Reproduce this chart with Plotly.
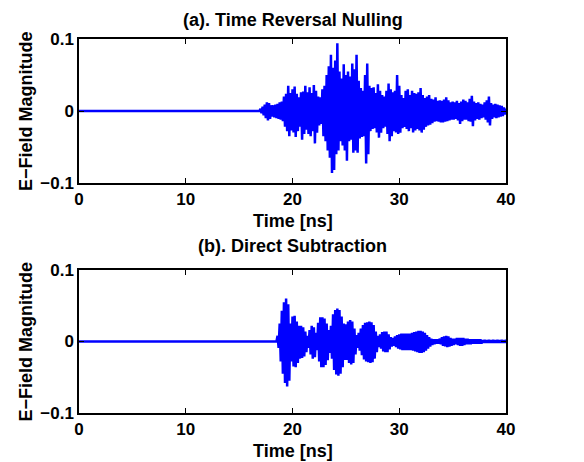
import numpy as np
import plotly.graph_objects as go

# ---------- data ----------
x_ticks = [0, 10, 20, 30, 40]
y_ticks = [-0.1, 0, 0.1]
x_tick_labels = ["0", "10", "20", "30", "40"]
y_tick_labels = ["\u22120.1", "0", "0.1"]

# (a) Time Reversal Nulling: envelope of the oscillation, sampled every 0.2 ns from 16.8 ns, units of 1e-3
a_t0 = 16.8
a_upper = [0, 3, 6, 9, 12, 11, 8, 8, 9, 10, 12, 13, 20, 24, 35, 25, 30, 34, 24, 19,
           26, 27, 35, 26, 33, 25, 36, 28, 20, 19, 30, 35, 50, 62, 78, 60, 70, 94, 55, 45,
           65, 50, 55, 48, 66, 58, 78, 42, 32, 28, 50, 66, 35, 32, 33, 25, 37, 28, 22, 20,
           28, 38, 30, 26, 28, 50, 35, 22, 18, 28, 30, 22, 28, 25, 24, 26, 32, 22, 18, 20,
           22, 17, 16, 19, 14, 15, 14, 16, 19, 15, 12, 13, 12, 14, 11, 13, 16, 14, 12, 17,
           21, 13, 11, 12, 10, 9, 12, 15, 20, 11, 9, 10, 9, 8, 7, 5, 3]
a_lower = [0, 3, 6, 10, 13, 11, 8, 9, 10, 11, 12, 14, 22, 28, 35, 27, 30, 36, 28, 22,
           40, 32, 26, 32, 35, 28, 45, 30, 20, 18, 35, 42, 55, 65, 86, 82, 60, 55, 42, 48,
           55, 69, 42, 40, 58, 55, 58, 38, 36, 35, 73, 60, 28, 25, 24, 30, 37, 30, 24, 22,
           32, 42, 35, 28, 30, 32, 30, 24, 22, 25, 28, 24, 30, 27, 25, 27, 30, 26, 22, 20,
           19, 17, 15, 14, 15, 16, 16, 15, 14, 13, 12, 12, 11, 13, 18, 14, 12, 12, 14, 15,
           21, 13, 11, 12, 10, 9, 12, 16, 20, 11, 9, 10, 9, 8, 7, 5, 4]

# (b) Direct Subtraction: envelope sampled every 0.2 ns from 18.4 ns, units of 1e-3
b_t0 = 18.4
b_upper = [0, 8, 25, 43, 55, 60, 52, 25, 35, 36, 28, 22, 22, 20, 14, 8, 16, 22, 20, 12,
           26, 34, 34, 32, 25, 16, 22, 38, 44, 46, 44, 35, 25, 24, 28, 30, 28, 18, 9, 12,
           18, 23, 26, 27, 28, 27, 23, 14, 8, 10, 13, 14, 14, 10, 6, 5, 7, 9, 10, 11,
           11, 11, 11, 11, 12, 13, 14, 15, 15, 14, 12, 9, 6, 4, 3, 3, 3, 4, 6, 7,
           8, 7, 5, 4, 4, 5, 5, 5, 5, 4, 4, 3, 3, 3, 3, 3, 3, 2, 2, 2,
           2, 2, 2, 2, 2, 2, 2, 2, 2]
b_lower = [0, 9, 28, 45, 58, 63, 55, 28, 35, 36, 30, 24, 23, 21, 15, 9, 18, 24, 22, 12,
           28, 36, 36, 33, 26, 16, 24, 40, 46, 48, 45, 36, 26, 26, 30, 32, 30, 18, 9, 13,
           19, 25, 28, 29, 30, 29, 24, 15, 8, 10, 14, 15, 15, 11, 7, 6, 8, 10, 11, 12,
           12, 12, 12, 12, 13, 14, 15, 16, 16, 15, 13, 10, 7, 5, 4, 3, 3, 4, 6, 7,
           8, 7, 6, 5, 4, 5, 6, 6, 5, 4, 4, 4, 3, 3, 3, 3, 3, 2, 2, 2,
           2, 2, 2, 2, 2, 2, 2, 2, 2]

DT = 0.2
SCALE = 1e-3


def waveform(t0, upper, lower):
    t = t0 + DT * np.arange(len(upper))
    xs = [0.0, t0]
    ys = [0.0, 0.0]
    for ti, u, l in zip(t, upper, lower):
        xs += [ti, ti + DT / 2]
        ys += [u * SCALE, -l * SCALE]
    return xs, ys


BLUE = "#0000FF"
FAMILY = "Liberation Sans, Arial, Helvetica, sans-serif"
FONT = dict(family=FAMILY, size=18, color="black", weight="bold")
TICKFONT = dict(family=FAMILY, size=17, color="black", weight="bold")

fig = go.Figure()
xa, ya = waveform(a_t0, a_upper, a_lower)
xb, yb = waveform(b_t0, b_upper, b_lower)
fig.add_trace(go.Scatter(x=xa, y=ya, mode="lines", line=dict(color=BLUE, width=2.5),
                         xaxis="x", yaxis="y", showlegend=False, hoverinfo="skip"))
fig.add_trace(go.Scatter(x=xb, y=yb, mode="lines", line=dict(color=BLUE, width=2.5),
                         xaxis="x2", yaxis="y2", showlegend=False, hoverinfo="skip"))

axis_common = dict(showline=True, linecolor="black", linewidth=1.5, mirror="ticks",
                   ticks="inside", ticklen=5, tickwidth=1, tickcolor="black",
                   showgrid=False, zeroline=False, tickfont=TICKFONT)

fig.update_layout(
    width=584, height=462,
    margin=dict(l=79, r=78, t=39, b=49),
    paper_bgcolor="white", plot_bgcolor="white",
    xaxis=dict(domain=[0, 1], anchor="y", range=[0, 40], tickvals=x_ticks,
               ticktext=x_tick_labels, **axis_common),
    yaxis=dict(domain=[0.615, 1.0], anchor="x", range=[-0.1, 0.1], tickvals=y_ticks,
               ticktext=y_tick_labels, **axis_common),
    xaxis2=dict(domain=[0, 1], anchor="y2", range=[0, 40], tickvals=x_ticks,
                ticktext=x_tick_labels, **axis_common),
    yaxis2=dict(domain=[0.0, 0.3824], anchor="x2", range=[-0.1, 0.1], tickvals=y_ticks,
                ticktext=y_tick_labels, **axis_common),
)

ann = dict(xref="paper", yref="paper", showarrow=False, font=FONT, borderpad=0)
fig.add_annotation(text="(a). Time Reversal Nulling", x=0.5, y=1.0508, xanchor="center", yanchor="middle", **ann)
fig.add_annotation(text="(b). Direct Subtraction", x=0.5, y=0.4465, xanchor="center", yanchor="middle", **ann)
fig.add_annotation(text="Time [ns]", x=0.5, y=0.5428, xanchor="center", yanchor="top", **ann)
fig.add_annotation(text="Time [ns]", x=0.5, y=-0.0722, xanchor="center", yanchor="top", **ann)
fig.add_annotation(text="E\u2212Field Magnitude", x=-0.124, y=0.8075, textangle=-90, xanchor="center", yanchor="middle", **ann)
fig.add_annotation(text="E\u2212Field Magnitude", x=-0.124, y=0.1912, textangle=-90, xanchor="center", yanchor="middle", **ann)

fig.write_html("out.html")
